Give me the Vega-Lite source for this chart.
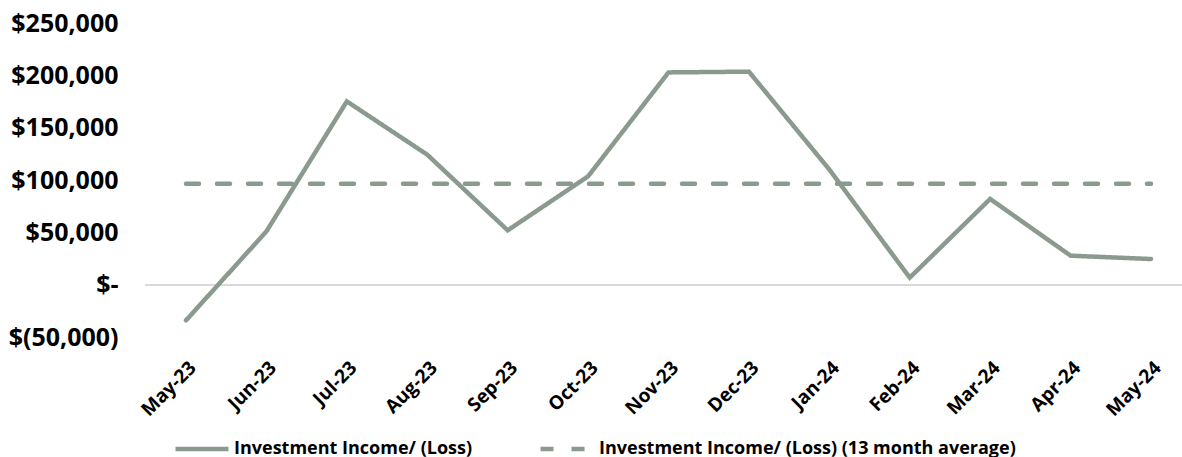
{
  "$schema": "https://vega.github.io/schema/vega-lite/v6.json",
  "autosize": "none",
  "width": 1037,
  "height": 314,
  "padding": {"left": 145, "top": 23, "right": 0, "bottom": 120},
  "background": "white",
  "config": {"view": {"stroke": null}, "font": "Open Sans"},
  "data": {"values": [
    {"month": "May-23", "series": "Investment Income/ (Loss)", "value": -34100},
    {"month": "Jun-23", "series": "Investment Income/ (Loss)", "value": 50900},
    {"month": "Jul-23", "series": "Investment Income/ (Loss)", "value": 175100},
    {"month": "Aug-23", "series": "Investment Income/ (Loss)", "value": 124200},
    {"month": "Sep-23", "series": "Investment Income/ (Loss)", "value": 51900},
    {"month": "Oct-23", "series": "Investment Income/ (Loss)", "value": 103500},
    {"month": "Nov-23", "series": "Investment Income/ (Loss)", "value": 202800},
    {"month": "Dec-23", "series": "Investment Income/ (Loss)", "value": 203500},
    {"month": "Jan-24", "series": "Investment Income/ (Loss)", "value": 110000},
    {"month": "Feb-24", "series": "Investment Income/ (Loss)", "value": 6700},
    {"month": "Mar-24", "series": "Investment Income/ (Loss)", "value": 81900},
    {"month": "Apr-24", "series": "Investment Income/ (Loss)", "value": 27700},
    {"month": "May-24", "series": "Investment Income/ (Loss)", "value": 24500},
    {"month": "May-23", "series": "Investment Income/ (Loss) (13 month average)", "value": 96500},
    {"month": "Jun-23", "series": "Investment Income/ (Loss) (13 month average)", "value": 96500},
    {"month": "Jul-23", "series": "Investment Income/ (Loss) (13 month average)", "value": 96500},
    {"month": "Aug-23", "series": "Investment Income/ (Loss) (13 month average)", "value": 96500},
    {"month": "Sep-23", "series": "Investment Income/ (Loss) (13 month average)", "value": 96500},
    {"month": "Oct-23", "series": "Investment Income/ (Loss) (13 month average)", "value": 96500},
    {"month": "Nov-23", "series": "Investment Income/ (Loss) (13 month average)", "value": 96500},
    {"month": "Dec-23", "series": "Investment Income/ (Loss) (13 month average)", "value": 96500},
    {"month": "Jan-24", "series": "Investment Income/ (Loss) (13 month average)", "value": 96500},
    {"month": "Feb-24", "series": "Investment Income/ (Loss) (13 month average)", "value": 96500},
    {"month": "Mar-24", "series": "Investment Income/ (Loss) (13 month average)", "value": 96500},
    {"month": "Apr-24", "series": "Investment Income/ (Loss) (13 month average)", "value": 96500},
    {"month": "May-24", "series": "Investment Income/ (Loss) (13 month average)", "value": 96500}
  ]},
  "layer": [
    {
      "mark": {"type": "rule", "color": "#d9d9d9", "strokeWidth": 1},
      "encoding": {"y": {"datum": 0, "type": "quantitative"}}
    },
    {
      "mark": {"type": "line", "strokeWidth": 4.5, "strokeCap": "round", "strokeJoin": "miter"},
      "encoding": {
        "x": {
          "field": "month", "type": "ordinal", "sort": null,
          "scale": {"type": "point", "range": [41, 1006], "padding": 0},
          "axis": {
            "title": null, "domain": false, "ticks": false, "grid": false,
            "labelAngle": -45, "labelAlign": "right", "labelBaseline": "top",
            "labelPadding": 21, "labelFont": "Open Sans", "labelFontWeight": "bold",
            "labelFontSize": 19, "labelColor": "#000000"
          }
        },
        "y": {
          "field": "value", "type": "quantitative",
          "scale": {"domain": [-50000, 250000], "nice": false, "zero": false},
          "axis": {
            "title": null, "domain": false, "ticks": false, "grid": false,
            "values": [-50000, 0, 50000, 100000, 150000, 200000, 250000],
            "labelExpr": "datum.value == 0 ? '$-\u00a0\u00a0\u00a0' : (datum.value < 0 ? '$(' + format(-datum.value, ',') + ')' : '$' + format(datum.value, ',') + '\u00a0')",
            "labelPadding": 27, "labelFont": "Open Sans", "labelFontWeight": "bold",
            "labelFontSize": 25, "labelColor": "#000000", "labelBaseline": "middle"
          }
        },
        "color": {
          "field": "series", "type": "nominal",
          "scale": {"domain": ["Investment Income/ (Loss)", "Investment Income/ (Loss) (13 month average)"], "range": ["#8a9a8e", "#8a9a8e"]},
          "legend": {
            "title": null, "orient": "none", "direction": "horizontal",
            "legendX": 28, "legendY": 397,
            "symbolType": "stroke", "symbolSize": 2800, "symbolStrokeWidth": 4.5,
            "labelFont": "Open Sans", "labelFontWeight": "bold", "labelFontSize": 18,
            "labelColor": "#000000", "labelOffset": 3, "columnPadding": 58,
            "labelLimit": 600
          }
        },
        "strokeDash": {
          "field": "series", "type": "nominal",
          "scale": {"domain": ["Investment Income/ (Loss)", "Investment Income/ (Loss) (13 month average)"], "range": [[1, 0], [13, 18]]},
          "legend": {
            "title": null, "orient": "none", "direction": "horizontal",
            "legendX": 28, "legendY": 397,
            "symbolType": "stroke", "symbolSize": 2800, "symbolStrokeWidth": 4.5,
            "labelFont": "Open Sans", "labelFontWeight": "bold", "labelFontSize": 18,
            "labelColor": "#000000", "labelOffset": 3, "columnPadding": 58,
            "labelLimit": 600
          }
        }
      }
    }
  ]
}
